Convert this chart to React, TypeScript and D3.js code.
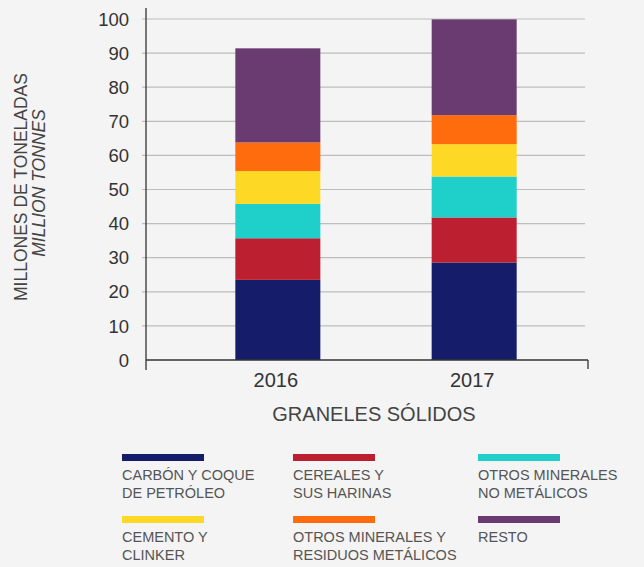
import React from "react";
import * as d3 from "d3";

const years = ["2016", "2017"];
const seriesNames = [
  "CARBÓN Y COQUE DE PETRÓLEO",
  "CEREALES Y SUS HARINAS",
  "OTROS MINERALES NO METÁLICOS",
  "CEMENTO Y CLINKER",
  "OTROS MINERALES Y RESIDUOS METÁLICOS",
  "RESTO",
];
const legendLines = [
  ["CARBÓN Y COQUE", "DE PETRÓLEO"],
  ["CEREALES Y", "SUS HARINAS"],
  ["OTROS MINERALES", "NO METÁLICOS"],
  ["CEMENTO Y", "CLINKER"],
  ["OTROS MINERALES Y", "RESIDUOS METÁLICOS"],
  ["RESTO"],
];
const carbon = [23.5, 28.6];
const cereales = [12.2, 13.2];
const otrosNoMet = [10.1, 12.0];
const cemento = [9.6, 9.5];
const otrosMet = [8.4, 8.5];
const resto = [27.6, 28.1];
const seriesValues = [carbon, cereales, otrosNoMet, cemento, otrosMet, resto];
const colors = ["#151d6b", "#bc1f2f", "#1fcfc9", "#fdd925", "#fe6c0e", "#6a3b71"];
const yTicks = [0, 10, 20, 30, 40, 50, 60, 70, 80, 90, 100];

const W = 644;
const H = 567;
const FONT = "'Liberation Sans', Arial, Helvetica, sans-serif";

export default function App() {
  const y = d3.scaleLinear().domain([0, 100]).range([360, 19]);
  const x = d3
    .scaleBand<string>()
    .domain(years)
    .range([146, 606])
    .paddingInner(0.567)
    .paddingOuter(0.455);

  const table = years.map((yr, i) => {
    const row: Record<string, any> = { year: yr };
    seriesNames.forEach((s, j) => (row[s] = seriesValues[j][i]));
    return row;
  });
  const stacked = d3.stack<any>().keys(seriesNames)(table);

  const axisX0 = 146;
  const axisX1 = 588;

  const legendCols = [122, 293, 478];
  const legendRows = [454, 516];

  return (
    <svg
      width={W}
      height={H}
      style={{ position: "absolute", left: 0, top: 0, fontFamily: FONT }}
    >
      <rect x={0} y={0} width={W} height={H} fill="#f4f4f4" />
      {/* gridlines */}
      {yTicks.filter((t) => t > 0).map((t) => (
        <line
          key={t}
          x1={142}
          x2={585}
          y1={y(t)}
          y2={y(t)}
          stroke="#bdbdbd"
          strokeWidth={1.2}
        />
      ))}
      {/* bars */}
      {stacked.map((layer, j) =>
        layer.map((d, i) => (
          <rect
            key={`${j}-${i}`}
            x={x(years[i])}
            width={x.bandwidth()}
            y={y(d[1])}
            height={y(d[0]) - y(d[1])}
            fill={colors[j]}
          />
        ))
      )}
      {/* axes */}
      <line x1={axisX0} x2={axisX0} y1={8} y2={370} stroke="#333" strokeWidth={1.3} />
      <line x1={axisX0} x2={axisX1} y1={360} y2={360} stroke="#333" strokeWidth={1.3} />
      <line x1={axisX1} x2={axisX1} y1={360} y2={369} stroke="#333" strokeWidth={1.3} />
      {yTicks.map((t) => (
        <text
          key={t}
          x={129}
          y={y(t)}
          dy="0.36em"
          textAnchor="end"
          fontSize={18.5}
          fill="#333"
        >
          {t}
        </text>
      ))}
      {years.map((yr) => (
        <text
          key={yr}
          x={(x(yr) as number) + x.bandwidth() / 2 - 2}
          y={387}
          textAnchor="middle"
          fontSize={20}
          fill="#333"
        >
          {yr}
        </text>
      ))}
      <text x={374} y={421} textAnchor="middle" fontSize={20} fill="#444">
        GRANELES SÓLIDOS
      </text>
      {/* y axis title */}
      <text
        transform="translate(27,187) rotate(-90)"
        textAnchor="middle"
        fontSize={17.5}
        fill="#444"
      >
        MILLONES DE TONELADAS
      </text>
      <text
        transform="translate(45,183) rotate(-90)"
        textAnchor="middle"
        fontSize={17.5}
        fontStyle="italic"
        fill="#444"
      >
        MILLION TONNES
      </text>
      {/* legend */}
      {legendLines.map((lines, k) => {
        const cx = legendCols[k % 3];
        const ry = legendRows[Math.floor(k / 3)];
        return (
          <g key={k}>
            <rect x={cx} y={ry} width={82} height={7} fill={colors[k]} />
            <text x={cx} y={ry + 26} fontSize={14.5} fill="#555">
              {lines.map((ln, li) => (
                <tspan key={li} x={cx} dy={li === 0 ? 0 : 18}>
                  {ln}
                </tspan>
              ))}
            </text>
          </g>
        );
      })}
    </svg>
  );
}
